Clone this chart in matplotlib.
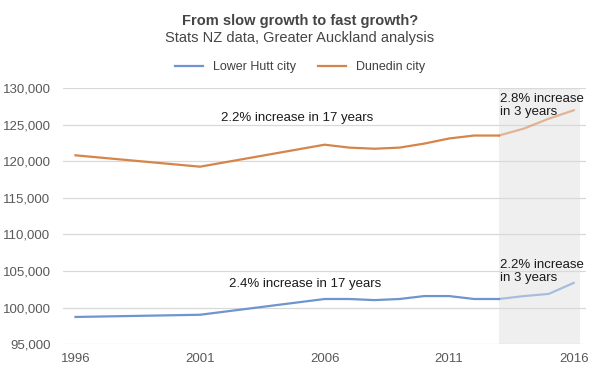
import matplotlib.pyplot as plt
from matplotlib.ticker import FuncFormatter

plt.rcParams['font.family'] = ['Liberation Sans', 'DejaVu Sans']

years = [1996, 2001, 2006, 2007, 2008, 2009, 2010, 2011, 2012, 2013, 2014, 2015, 2016]
lower_hutt = [98750, 99050, 101200, 101200, 101050, 101200, 101600, 101600, 101200, 101200, 101600, 101900, 103400]
dunedin = [120800, 119250, 122250, 121850, 121700, 121850, 122400, 123100, 123500, 123500, 124450, 125800, 126950]

split = years.index(2013)  # start of the "last 3 years" shaded part
blue = "#6f95cf"
orange = "#d5854a"

fig = plt.figure(figsize=(6, 3.74), dpi=100)
ax = fig.add_axes([0.105, 0.079, 0.872, 0.686])

ax.axvspan(2013, 2016.25, color="#efefef", zorder=0, lw=0)

ax.plot(years[:split + 1], lower_hutt[:split + 1], color=blue, lw=1.6, label="Lower Hutt city")
ax.plot(years[:split + 1], dunedin[:split + 1], color=orange, lw=1.6, label="Dunedin city")
ax.plot(years[split:], lower_hutt[split:], color=blue, lw=1.6, alpha=0.55)
ax.plot(years[split:], dunedin[split:], color=orange, lw=1.6, alpha=0.55)

ax.set_xlim(1995.5, 2016.5)
ax.set_ylim(95000, 130000)
ax.set_xticks([1996, 2001, 2006, 2011, 2016])
ax.set_yticks(range(95000, 130001, 5000))
ax.yaxis.set_major_formatter(FuncFormatter(lambda v, p: f"{int(v):,}"))
ax.grid(axis="y", color="#d9d9d9", lw=0.9)
ax.set_axisbelow(True)
for s in ax.spines.values():
    s.set_visible(False)
ax.tick_params(length=0, labelsize=9.5, colors="#595959")
ax.tick_params(axis="x", pad=6)
ax.tick_params(axis="y", pad=9)

txt = dict(fontsize=9.5, color="#1a1a1a")
ax.text(2004.9, 125900, "2.2% increase in 17 years", ha="center", va="center", **txt)
ax.text(2005.2, 103200, "2.4% increase in 17 years", ha="center", va="center", **txt)
ax.text(2013.05, 129350, "2.8% increase\nin 3 years", ha="left", va="top", linespacing=1.1, **txt)
ax.text(2013.05, 106700, "2.2% increase\nin 3 years", ha="left", va="top", linespacing=1.15, **txt)

fig.text(0.5, 0.934, "From slow growth to fast growth?", ha="center", fontsize=10.5,
         fontweight="bold", color="#454545")
fig.text(0.5, 0.887, "Stats NZ data, Greater Auckland analysis", ha="center", fontsize=10.5,
         color="#454545")
fig.legend(loc="center", bbox_to_anchor=(0.5, 0.82), ncol=2, frameon=False, fontsize=9,
           handlelength=2.2, columnspacing=1.8, labelcolor="#404040")

fig.savefig("out.png", dpi=100)
